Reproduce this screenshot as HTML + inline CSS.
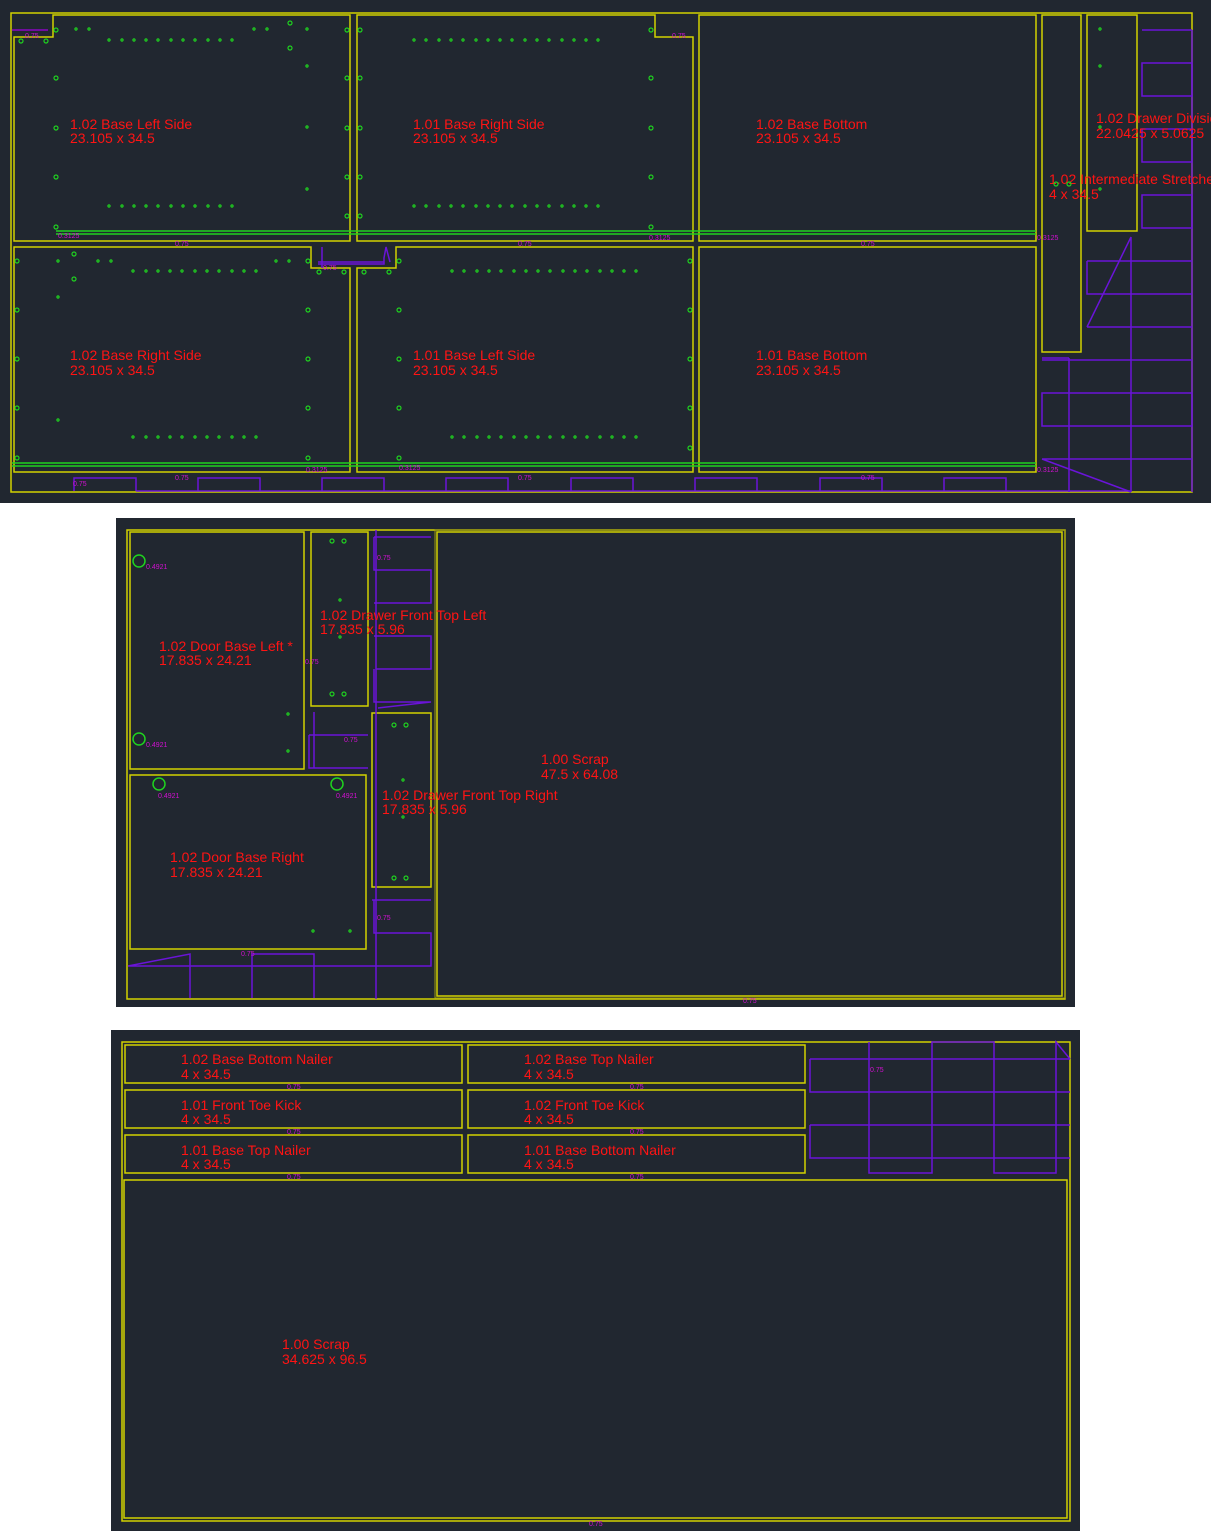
<!DOCTYPE html>
<html><head><meta charset="utf-8"><style>
html,body{margin:0;padding:0;background:#fff;}
svg{display:block}
text{font-family:"Liberation Sans",sans-serif;}
.r{fill:#ff1414;font-size:14px}
.m{fill:#d010d0;font-size:7px}
.y{fill:none;stroke:#d2d200;stroke-width:1.5}
.y2{fill:none;stroke:#9a9a10;stroke-width:1}
.p{fill:none;stroke:#6a14d8;stroke-width:1.5}
.g{fill:none;stroke:#1fd21f;stroke-width:1.2}
.gl{stroke:#1fd21f;stroke-width:1.5}
.d{fill:#1fd21f}
</style></head><body>
<svg width="1211" height="1531" viewBox="0 0 1211 1531" xmlns="http://www.w3.org/2000/svg">
<defs>
<g id="h"><circle r="2" class="g"/></g>
<g id="s"><circle r="1.1" class="g" stroke-width="0.9"/></g>
</defs>
<!-- PANEL 1 -->
<rect x="0" y="0" width="1211" height="503" fill="#212730"/>
<rect x="11" y="13" width="1181" height="479" class="y"/>
<!-- purple bottom -->
<path class="p" d="M74,491 V478 H136 V491 M198,491 V478 H260 V491 M322,491 V478 H384 V491 M446,491 V478 H508 V491 M571,491 V478 H633 V491 M695,491 V478 H757 V491 M820,491 V478 H882 V491 M944,491 V478 H1006 V491 M136,491 H1130"/>
<!-- purple right -->
<path class="p" d="M1142,30 H1192 M1142,63 H1192 V96 H1142 Z M1142,129 H1192 V162 H1142 Z M1142,195 H1192 V228 H1142 Z M1087,261 H1192 M1087,261 V294 H1192 M1087,327 H1192 M1131,237 V492 M1131,237 L1087,327 M1042,360 H1192 M1042,393 H1192 V426 H1042 Z M1042,459 H1192 M1069,358 V492 M1042,459 L1131,492 M1042,358 L1069,358"/>
<path class="p" d="M1192,30 V492"/>
<!-- pieces row1 -->
<path class="y" d="M53,15 H350 V241 H14 V37 H53 Z"/>
<path class="y" d="M357,15 H655 V37 H693 V241 H357 Z"/>
<rect x="699" y="15" width="337" height="226" class="y"/>
<rect x="1042" y="15" width="39" height="337" class="y"/>
<rect x="1087" y="15" width="50" height="216" class="y"/>
<!-- row2 -->
<path class="y" d="M14,247 H311 V268 H350 V472 H14 Z"/>
<path class="y" d="M396,247 H693 V472 H357 V268 H396 Z"/>
<rect x="699" y="247" width="337" height="225" class="y"/>
<path class="p" d="M322,247 V268 M318,262 H384 M318,264 H384 V258 L386,247 L390,262"/>
<!-- green lines -->
<path class="gl" d="M56,231 H1036 M56,234 H1036 M12,463 H1036 M12,466 H1036"/>
<!-- labels -->
<text class="r" x="70" y="129">1.02 Base Left Side</text><text class="r" x="70" y="143">23.105 x 34.5</text>
<text class="r" x="413" y="129">1.01 Base Right Side</text><text class="r" x="413" y="143">23.105 x 34.5</text>
<text class="r" x="756" y="129">1.02 Base Bottom</text><text class="r" x="756" y="143">23.105 x 34.5</text>
<text class="r" x="1096" y="123">1.02 Drawer Division</text><text class="r" x="1096" y="138">22.0425 x 5.0625</text>
<text class="r" x="1049" y="184">1.02 Intermediate Stretcher</text><text class="r" x="1049" y="199">4 x 34.5</text>
<text class="r" x="70" y="360">1.02 Base Right Side</text><text class="r" x="70" y="375">23.105 x 34.5</text>
<text class="r" x="413" y="360">1.01 Base Left Side</text><text class="r" x="413" y="375">23.105 x 34.5</text>
<text class="r" x="756" y="360">1.01 Base Bottom</text><text class="r" x="756" y="375">23.105 x 34.5</text>
<!-- magenta dims -->
<g class="m">
<text x="25" y="38">0.75</text><text x="175" y="246">0.75</text><text x="518" y="246">0.75</text><text x="861" y="246">0.75</text>
<text x="58" y="238">0.3125</text><text x="649" y="240">0.3125</text><text x="1037" y="240">0.3125</text>
<text x="672" y="38">0.75</text><text x="323" y="270">0.75</text>
<text x="175" y="480">0.75</text><text x="518" y="480">0.75</text><text x="861" y="480">0.75</text>
<text x="73" y="486">0.75</text><text x="306" y="472">0.3125</text><text x="399" y="470">0.3125</text><text x="1037" y="472">0.3125</text>
</g>
<path d="M12,30 H48" stroke="#a000e0" stroke-width="1.2"/>
<!-- holes panel 1 -->
<g>
<use href="#h" x="56" y="30"/><use href="#h" x="56" y="78"/><use href="#h" x="56" y="128"/><use href="#h" x="56" y="177"/><use href="#h" x="56" y="227"/>
<use href="#h" x="347" y="30"/><use href="#h" x="347" y="78"/><use href="#h" x="347" y="128"/><use href="#h" x="347" y="177"/><use href="#h" x="347" y="216"/>
<use href="#h" x="21" y="41"/><use href="#h" x="46" y="41"/><use href="#h" x="290" y="23"/><use href="#h" x="290" y="48"/>
<use href="#h" x="360" y="30"/><use href="#h" x="360" y="78"/><use href="#h" x="360" y="128"/><use href="#h" x="360" y="177"/><use href="#h" x="360" y="216"/>
<use href="#h" x="651" y="30"/><use href="#h" x="651" y="78"/><use href="#h" x="651" y="128"/><use href="#h" x="651" y="177"/><use href="#h" x="651" y="227"/>
<use href="#h" x="17" y="261"/><use href="#h" x="17" y="310"/><use href="#h" x="17" y="359"/><use href="#h" x="17" y="408"/><use href="#h" x="17" y="458"/>
<use href="#h" x="308" y="261"/><use href="#h" x="308" y="310"/><use href="#h" x="308" y="359"/><use href="#h" x="308" y="408"/><use href="#h" x="308" y="458"/>
<use href="#h" x="74" y="254"/><use href="#h" x="74" y="279"/><use href="#h" x="319" y="272"/><use href="#h" x="344" y="272"/><use href="#h" x="364" y="272"/><use href="#h" x="389" y="272"/>
<use href="#h" x="399" y="261"/><use href="#h" x="399" y="310"/><use href="#h" x="399" y="359"/><use href="#h" x="399" y="408"/><use href="#h" x="399" y="458"/>
<use href="#h" x="690" y="261"/><use href="#h" x="690" y="310"/><use href="#h" x="690" y="359"/><use href="#h" x="690" y="408"/><use href="#h" x="690" y="448"/>
<use href="#h" x="1056" y="184"/><use href="#h" x="1069" y="184"/>
</g>
<g id="row11">
<use href="#s" x="109" y="40"/><use href="#s" x="122" y="40"/><use href="#s" x="134" y="40"/><use href="#s" x="146" y="40"/><use href="#s" x="158" y="40"/><use href="#s" x="171" y="40"/><use href="#s" x="183" y="40"/><use href="#s" x="195" y="40"/><use href="#s" x="208" y="40"/><use href="#s" x="220" y="40"/><use href="#s" x="232" y="40"/>
</g>
<use href="#row11" y="166"/>
<g id="row16">
<use href="#s" x="414" y="40"/><use href="#s" x="426" y="40"/><use href="#s" x="439" y="40"/><use href="#s" x="451" y="40"/><use href="#s" x="463" y="40"/><use href="#s" x="476" y="40"/><use href="#s" x="488" y="40"/><use href="#s" x="500" y="40"/><use href="#s" x="512" y="40"/><use href="#s" x="525" y="40"/><use href="#s" x="537" y="40"/><use href="#s" x="549" y="40"/><use href="#s" x="562" y="40"/><use href="#s" x="574" y="40"/><use href="#s" x="586" y="40"/><use href="#s" x="598" y="40"/>
</g>
<use href="#row16" y="166"/>
<use href="#row11" x="24" y="231"/><use href="#row11" x="24" y="397"/>
<use href="#row16" x="38" y="231"/><use href="#row16" x="38" y="397"/>
<g><use href="#s" x="76" y="29"/><use href="#s" x="89" y="29"/><use href="#s" x="254" y="29"/><use href="#s" x="267" y="29"/><use href="#s" x="307" y="29"/><use href="#s" x="307" y="66"/><use href="#s" x="307" y="127"/><use href="#s" x="307" y="189"/>
<use href="#s" x="98" y="261"/><use href="#s" x="111" y="261"/><use href="#s" x="276" y="261"/><use href="#s" x="289" y="261"/><use href="#s" x="58" y="261"/><use href="#s" x="58" y="297"/><use href="#s" x="58" y="420"/>
<use href="#s" x="1100" y="29"/><use href="#s" x="1100" y="66"/><use href="#s" x="1100" y="127"/><use href="#s" x="1100" y="189"/></g>

<!-- PANEL 2 -->
<rect x="116" y="518" width="959" height="489" fill="#212730"/>
<rect x="127" y="530" width="938" height="469" class="y"/>
<rect x="437" y="532" width="625" height="464" class="y"/>
<rect x="435" y="530" width="630" height="468" class="y2"/>
<rect x="130" y="532" width="174" height="237" class="y"/>
<rect x="311" y="532" width="57" height="174" class="y"/>
<rect x="372" y="713" width="59" height="174" class="y"/>
<rect x="130" y="775" width="236" height="174" class="y"/>
<path class="p" d="M376,530 V999 M374,537 H431 M374,537 V570 H431 V603 H376 M374,603 H431 M374,636 H431 V669 H376 M374,669 V702 H431 L378,708 M314,712 V768 M309,735 V768 H368 M309,735 H368 M372,900 H431 M374,900 V933 H431 V966 H376 M128,966 H431 M128,966 L190,954 V998 M252,998 V954 H314 V998"/>
<text class="r" x="159" y="651">1.02 Door Base Left *</text><text class="r" x="159" y="665">17.835 x 24.21</text>
<text class="r" x="320" y="620">1.02 Drawer Front Top Left</text><text class="r" x="320" y="634">17.835 x 5.96</text>
<text class="r" x="382" y="800">1.02 Drawer Front Top Right</text><text class="r" x="382" y="814">17.835 x 5.96</text>
<text class="r" x="170" y="862">1.02 Door Base Right</text><text class="r" x="170" y="877">17.835 x 24.21</text>
<text class="r" x="541" y="764">1.00 Scrap</text><text class="r" x="541" y="779">47.5 x 64.08</text>
<g class="m"><text x="146" y="569">0.4921</text><text x="146" y="747">0.4921</text><text x="158" y="798">0.4921</text><text x="336" y="798">0.4921</text>
<text x="377" y="560">0.75</text><text x="305" y="664">0.75</text><text x="344" y="742">0.75</text><text x="377" y="920">0.75</text><text x="241" y="956">0.75</text><text x="743" y="1003">0.75</text></g>
<g fill="none" stroke="#1fd21f" stroke-width="1.5"><circle cx="139" cy="561" r="6"/><circle cx="139" cy="739" r="6"/><circle cx="159" cy="784" r="6"/><circle cx="337" cy="784" r="6"/></g>
<g><use href="#h" x="332" y="541"/><use href="#h" x="344" y="541"/><use href="#h" x="332" y="694"/><use href="#h" x="344" y="694"/>
<use href="#h" x="394" y="725"/><use href="#h" x="406" y="725"/><use href="#h" x="394" y="878"/><use href="#h" x="406" y="878"/>
<use href="#s" x="340" y="600"/><use href="#s" x="340" y="637"/><use href="#s" x="403" y="780"/><use href="#s" x="403" y="817"/><use href="#s" x="288" y="714"/><use href="#s" x="288" y="751"/><use href="#s" x="313" y="931"/><use href="#s" x="350" y="931"/></g>

<!-- PANEL 3 -->
<rect x="111" y="1030" width="969" height="501" fill="#212730"/>
<rect x="122" y="1042" width="948" height="479" class="y"/>
<rect x="124" y="1180" width="943" height="338" class="y"/>
<rect x="125" y="1045" width="337" height="38" class="y"/><rect x="468" y="1045" width="337" height="38" class="y"/>
<rect x="125" y="1090" width="337" height="38" class="y"/><rect x="468" y="1090" width="337" height="38" class="y"/>
<rect x="125" y="1135" width="337" height="38" class="y"/><rect x="468" y="1135" width="337" height="38" class="y"/>
<path class="p" d="M810,1059 H1070 M810,1059 V1092 H1070 M810,1125 V1158 H1070 M810,1125 H1070 M869,1042 V1173 H932 V1042 H994 V1173 H1056 V1042 L1070,1059"/>
<text class="r" x="181" y="1064">1.02 Base Bottom Nailer</text><text class="r" x="181" y="1079">4 x 34.5</text>
<text class="r" x="524" y="1064">1.02 Base Top Nailer</text><text class="r" x="524" y="1079">4 x 34.5</text>
<text class="r" x="181" y="1110">1.01 Front Toe Kick</text><text class="r" x="181" y="1124">4 x 34.5</text>
<text class="r" x="524" y="1110">1.02 Front Toe Kick</text><text class="r" x="524" y="1124">4 x 34.5</text>
<text class="r" x="181" y="1155">1.01 Base Top Nailer</text><text class="r" x="181" y="1169">4 x 34.5</text>
<text class="r" x="524" y="1155">1.01 Base Bottom Nailer</text><text class="r" x="524" y="1169">4 x 34.5</text>
<text class="r" x="282" y="1349">1.00 Scrap</text><text class="r" x="282" y="1364">34.625 x 96.5</text>
<g class="m"><text x="287" y="1089">0.75</text><text x="630" y="1089">0.75</text><text x="287" y="1134">0.75</text><text x="630" y="1134">0.75</text><text x="287" y="1179">0.75</text><text x="630" y="1179">0.75</text><text x="870" y="1072">0.75</text><text x="589" y="1526">0.75</text></g>
</svg>
</body></html>
